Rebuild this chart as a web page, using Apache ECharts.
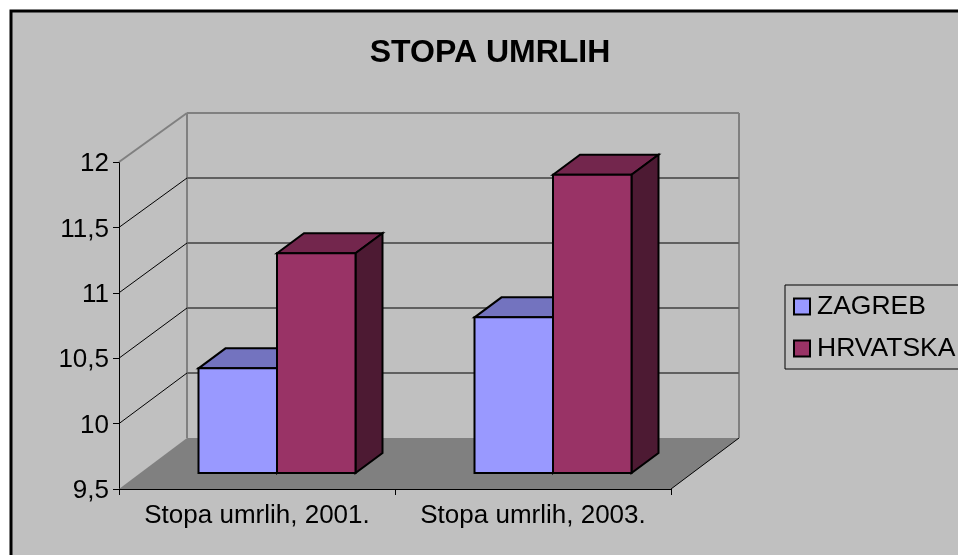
<!DOCTYPE html>
<html>
<head>
<meta charset="utf-8">
<style>
  html, body { margin: 0; padding: 0; background: #fff; overflow: hidden; }
  #main { width: 958px; height: 555px; }
</style>
<script src="https://cdn.jsdelivr.net/npm/echarts@6/dist/echarts.min.js"></script>
</head>
<body>
<div id="main"></div>
<script>
// chart data
const categories = ['Stopa umrlih, 2001.', 'Stopa umrlih, 2003.']
const zagreb = [10.3, 10.69]
const hrvatska = [11.18, 11.78]
const yTicks = [9.5, 10, 10.5, 11, 11.5, 12]

const FONT = '"Liberation Sans", Arial, sans-serif'

// fake 3d: how far the back wall sits from the front plane
const WALL_DX = 68
const WALL_DY = 51
const WALL_SCALE = 325 / 327 // back wall is a touch shorter than the front
// bars stand a bit inside the floor
const BAR_DX = 20
const BAR_DY = 16
const BAR_W = 78.5
const DEPTH_DX = 27
const DEPTH_DY = 20

const chart = echarts.init(document.getElementById('main'))

// back wall, floor and the grid lines, one item per tick
function renderWall(params, api) {
  const v = api.value(1)
  const cs = params.coordSys
  const y = api.coord([0, v])[1]
  const base = api.coord([0, yTicks[0]])[1]
  const backY = base - WALL_DY - (base - y) * WALL_SCALE
  const left = cs.x
  const right = cs.x + cs.width
  const children = []
  const isBottom = v === yTicks[0]
  const isTop = v === yTicks[yTicks.length - 1]

  if (isBottom) {
    // wall fill is the chart background, floor is darker
    children.push({
      type: 'polygon',
      shape: { points: [[left, y], [left + WALL_DX, backY], [right + WALL_DX, backY], [right, y]] },
      style: { fill: '#808080', stroke: null }
    })
    children.push({
      type: 'line',
      shape: { x1: right, y1: y, x2: right + WALL_DX, y2: backY },
      style: { stroke: '#000', lineWidth: 1 }
    })
    // wall side edges
    const topY = api.coord([0, yTicks[yTicks.length - 1]])[1]
    const topBack = base - WALL_DY - (base - topY) * WALL_SCALE
    children.push({
      type: 'line',
      shape: { x1: left + WALL_DX, y1: backY, x2: left + WALL_DX, y2: topBack },
      style: { stroke: '#808080', lineWidth: 2 }
    })
    children.push({
      type: 'line',
      shape: { x1: right + WALL_DX, y1: backY, x2: right + WALL_DX, y2: topBack },
      style: { stroke: '#808080', lineWidth: 2 }
    })
  } else {
    children.push({
      type: 'line',
      shape: { x1: left, y1: y, x2: left + WALL_DX, y2: backY },
      style: isTop ? { stroke: '#808080', lineWidth: 2 } : { stroke: '#000', lineWidth: 1 }
    })
    children.push({
      type: 'line',
      shape: { x1: left + WALL_DX, y1: backY, x2: right + WALL_DX, y2: backY },
      style: isTop ? { stroke: '#808080', lineWidth: 2 } : { stroke: '#606060', lineWidth: 2 }
    })
  }
  return { type: 'group', children }
}

// one box; slot -1 is left of the category centre, slot 0 right of it
function makeBarRenderer(slot, front, topColor, sideColor) {
  return function (params, api) {
    const cat = api.value(0)
    const top = api.coord([cat, api.value(1)])
    const base = api.coord([cat, yTicks[0]])
    const x0 = top[0] + BAR_DX + slot * BAR_W
    const x1 = x0 + BAR_W
    const y0 = top[1] - BAR_DY
    const y1 = base[1] - BAR_DY
    const line = { stroke: '#000', lineWidth: 2, lineJoin: 'miter' }
    return {
      type: 'group',
      children: [
        {
          type: 'polygon',
          shape: { points: [[x0, y0], [x0 + DEPTH_DX, y0 - DEPTH_DY], [x1 + DEPTH_DX, y0 - DEPTH_DY], [x1, y0]] },
          style: { fill: topColor, ...line }
        },
        {
          type: 'polygon',
          shape: { points: [[x1, y0], [x1 + DEPTH_DX, y0 - DEPTH_DY], [x1 + DEPTH_DX, y1 - DEPTH_DY], [x1, y1]] },
          style: { fill: sideColor, ...line }
        },
        {
          type: 'rect',
          shape: { x: x0, y: y0, width: BAR_W, height: y1 - y0 },
          style: { fill: front, ...line }
        }
      ]
    }
  }
}

const option = {
  animation: false,
  backgroundColor: '#fff',
  textStyle: { fontFamily: FONT },
  graphic: [{
    type: 'rect',
    z: -10,
    silent: true,
    shape: { x: 11, y: 11, width: 1000, height: 600 },
    style: { fill: '#c0c0c0', stroke: '#000', lineWidth: 3 }
  }],
  title: {
    text: 'STOPA UMRLIH',
    left: 485,
    top: 32,
    textAlign: 'center',
    textStyle: { fontFamily: FONT, fontSize: 32, fontWeight: 'bold', color: '#000' }
  },
  legend: {
    left: 785,
    top: 285,
    orient: 'vertical',
    padding: [8, 8, 7, 8],
    itemGap: 15,
    itemWidth: 16,
    itemHeight: 16,
    borderColor: '#000',
    borderWidth: 1,
    selectedMode: false,
    textStyle: { fontFamily: FONT, fontSize: 26.5, color: '#000', padding: [0, 0, 0, 2] },
    data: [
      { name: 'ZAGREB', icon: 'rect', itemStyle: { color: '#9999ff', borderColor: '#000', borderWidth: 2 } },
      { name: 'HRVATSKA', icon: 'rect', itemStyle: { color: '#993366', borderColor: '#000', borderWidth: 2 } }
    ]
  },
  grid: { left: 119, right: 287, top: 162, bottom: 66 },
  xAxis: {
    type: 'category',
    data: categories,
    axisLine: { lineStyle: { color: '#000', width: 1 } },
    axisTick: { show: true, length: 6, lineStyle: { color: '#000' } },
    axisLabel: { color: '#000', fontSize: 26, margin: 14, fontFamily: FONT, interval: 0, hideOverlap: false }
  },
  yAxis: {
    type: 'value',
    min: 9.5,
    max: 12,
    interval: 0.5,
    splitLine: { show: false },
    axisLine: { show: true, lineStyle: { color: '#000', width: 1 } },
    axisTick: { show: true, length: 6, lineStyle: { color: '#000' } },
    axisLabel: {
      color: '#000',
      fontSize: 26,
      margin: 10,
      verticalAlign: 'top',
      lineHeight: 4,
      fontFamily: FONT,
      formatter: v => String(v).replace('.', ',')
    }
  },
  series: [
    {
      type: 'custom',
      name: 'wall',
      clip: false,
      silent: true,
      z: 1,
      renderItem: renderWall,
      data: yTicks.map(t => [0, t])
    },
    {
      type: 'custom',
      name: 'ZAGREB',
      clip: false,
      z: 2,
      itemStyle: { color: '#9999ff' },
      renderItem: makeBarRenderer(-1, '#9999ff', '#7373bf', '#4d4d80'),
      data: zagreb.map((v, i) => [i, v])
    },
    {
      type: 'custom',
      name: 'HRVATSKA',
      clip: false,
      z: 3,
      itemStyle: { color: '#993366' },
      renderItem: makeBarRenderer(0, '#993366', '#73264d', '#4d1a33'),
      data: hrvatska.map((v, i) => [i, v])
    }
  ]
}

chart.setOption(option)
</script>
</body>
</html>
